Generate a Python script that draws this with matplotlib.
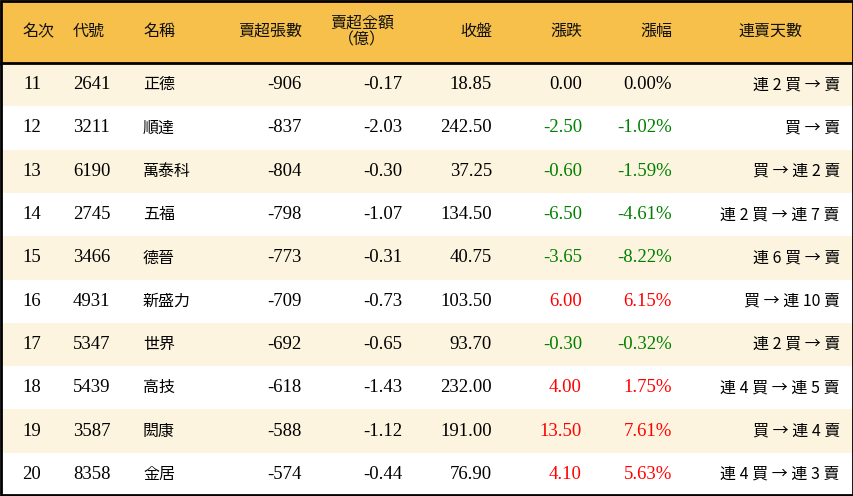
import matplotlib
matplotlib.use("Agg")
import matplotlib.pyplot as plt
from matplotlib.patches import Rectangle

headers = ["名次", "代號", "名稱", "賣超張數", "賣超金額\n（億）", "收盤", "漲跌", "漲幅", "連賣天數"]
ranks = [11, 12, 13, 14, 15, 16, 17, 18, 19, 20]
codes = ["2641", "3211", "6190", "2745", "3466", "4931", "5347", "5439", "3587", "8358"]
names = ["正德", "順達", "萬泰科", "五福", "德晉", "新盛力", "世界", "高技", "閎康", "金居"]
net_sell = [-906, -837, -804, -798, -773, -709, -692, -618, -588, -574]
amount = [-0.17, -2.03, -0.30, -1.07, -0.31, -0.73, -0.65, -1.43, -1.12, -0.44]
close = [18.85, 242.50, 37.25, 134.50, 40.75, 103.50, 93.70, 232.00, 191.00, 76.90]
change = [0.00, -2.50, -0.60, -6.50, -3.65, 6.00, -0.30, 4.00, 13.50, 4.10]
pct = [0.00, -1.02, -1.59, -4.61, -8.22, 6.15, -0.32, 1.75, 7.61, 5.63]
streak = ["連 2 買 → 賣", "買 → 賣", "買 → 連 2 賣", "連 2 買 → 連 7 賣", "連 6 買 → 賣",
          "買 → 連 10 賣", "連 2 買 → 賣", "連 4 買 → 連 5 賣", "買 → 連 4 賣", "連 4 買 → 連 3 賣"]

W, H = 854, 496
fig = plt.figure(figsize=(W/100, H/100), dpi=100)
ax = fig.add_axes([0, 0, 1, 1])
ax.set_xlim(0, W); ax.set_ylim(H, 0); ax.axis("off")

cjk = ["Noto Sans CJK TC", "Noto Sans CJK JP", "Noto Sans CJK SC", "Noto Sans CJK KR", "DejaVu Sans"]
num = "Liberation Serif"
hdr_h = 63
row_h = (H - hdr_h) / 10

ax.add_patch(Rectangle((0, 0), W, hdr_h, color="#F7C04A", lw=0))
for i in range(10):
    y0 = hdr_h + i * row_h
    ax.add_patch(Rectangle((0, y0), W, row_h, color="#FDF4DF" if i % 2 == 0 else "white", lw=0))
ax.plot([0, W], [hdr_h, hdr_h], color="black", lw=2)
ax.add_patch(Rectangle((1, 1), W-2, H-2, fill=False, ec="black", lw=2))

hy = hdr_h / 2
hpos = [(38, "center"), (73, "left"), (143, "left"), (302, "right"), (362, "center"),
        (492, "right"), (582, "right"), (672, "right"), (770, "center")]
for (x, ha), t in zip(hpos, headers):
    ax.text(x, hy, t, ha=ha, va="center", fontsize=11.5, family=cjk, linespacing=0.95, color="#111")

def col(v):
    return "#008000" if v < 0 else ("#FF0000" if v > 0 else "black")

for i in range(10):
    y = hdr_h + (i + 0.5) * row_h
    fs = 13.5
    ax.text(32, y, str(ranks[i]), ha="center", va="center", fontsize=fs, family=num)
    ax.text(73, y, codes[i], ha="left", va="center", fontsize=fs, family=num)
    ax.text(143, y, names[i], ha="left", va="center", fontsize=11.5, family=cjk)
    ax.text(302, y, f"{net_sell[i]}", ha="right", va="center", fontsize=fs, family=num)
    ax.text(402, y, f"{amount[i]:.2f}", ha="right", va="center", fontsize=fs, family=num)
    ax.text(492, y, f"{close[i]:.2f}", ha="right", va="center", fontsize=fs, family=num)
    ax.text(582, y, f"{change[i]:.2f}", ha="right", va="center", fontsize=fs, family=num, color=col(change[i]))
    ax.text(672, y, f"{pct[i]:.2f}%", ha="right", va="center", fontsize=fs, family=num, color=col(pct[i]))
    ax.text(840, y, streak[i], ha="right", va="center", fontsize=11.5, family=cjk)

fig.savefig("out.png", dpi=100)
